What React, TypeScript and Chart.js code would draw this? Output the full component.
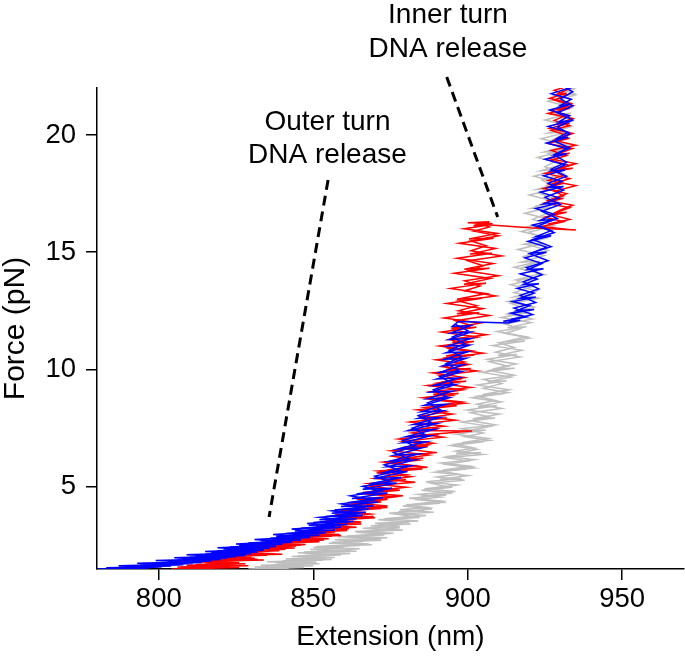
import React, { useEffect, useRef } from "react";
import { Chart, registerables } from "chart.js";

Chart.register(...registerables);

const FONT = "'Liberation Sans', Arial, Helvetica, sans-serif";

// Axes
const xRange = [780, 970];
const yRange = [1.5, 22];
const xTicks = [800, 850, 900, 950];
const yTicks = [5, 10, 15, 20];
const xTitle = "Extension (nm)";
const yTitle = "Force (pN)";

// Gray trace (force pN / extension nm), two interleaved sample passes
const grayForce = [
  1.50,1.56,1.53,1.62,1.66,1.72,1.70,1.79,1.85,1.91,1.88,1.97,2.03,2.10,2.07,2.16,2.22,2.29,2.26,2.36,2.42,2.50,2.47,2.57,2.64,2.72,2.69,2.80,2.87,2.95,2.92,3.02,
  3.10,3.18,3.15,3.26,3.34,3.42,3.39,3.50,3.60,3.70,3.66,3.78,3.88,3.98,3.94,4.06,4.18,4.30,4.26,4.40,4.52,4.64,4.60,4.74,4.86,4.98,4.94,5.08,5.22,5.36,5.32,5.48,5.62,5.76,5.72,5.88,6.02,
  6.16,6.30,6.46,6.42,6.60,6.76,6.92,6.88,7.06,7.24,7.42,7.38,7.58,7.76,7.94,7.90,8.10,8.28,8.46,8.42,8.62,8.80,8.98,8.94,9.14,9.34,9.52,9.48,9.68,9.88,10.06,10.02,10.24,10.44,10.64,10.60,10.82,11.02,11.22,11.18,11.40,11.62,11.82,11.78,12.00,
  12.22,12.44,12.40,12.66,12.90,13.14,13.10,13.36,13.62,13.88,13.84,14.10,14.36,14.62,14.58,14.86,15.12,15.38,15.34,15.62,15.88,16.14,16.10,16.38,16.66,16.92,16.88,17.16,17.44,17.72,17.68,17.96,18.24,18.52,18.48,18.76,19.04,19.32,19.28,19.56,19.84,20.12,20.08,20.36,20.64,20.92,20.88,21.16,21.44,21.72,21.68,21.96,22.20
];
const grayExt = [
  829,847,834,846,833,852,838,851,840,856,844,854,843,859,846,862,847,862,851,865,850,865,854,868,856,872,860,872,858,873,864,876,
  863.5,876,868.5,878,868.5,881.5,871,881,871,884.5,876,886.5,874.5,886,877.5,888.5,879,891,882.5,891,881,893,885,895,885,895,888.5,896.5,886.5,898,891,900,889.5,899.5,892,901,891.5,
  902,893.7,904.3,896.2,903,894.5,905.2,898,906.7,896.2,905.8,899.6,907.3,898,908.8,901.6,910.3,899.8,909.4,903.3,910.9,901.4,911.9,904.8,913.4,903,912.6,906.4,914,904.6,915.2,908.1,915.7,906.3,915.9,909.8,917.5,908,918.5,911.4,919,909.5,919,912.9,920.5,
  910.8,920.2,914.1,921.5,912.9,921.2,915.1,922.5,913.9,922.3,916.2,923.6,915,923.4,917.4,924.8,916.2,924.6,918.5,925.9,917.3,925.7,919.7,927.1,918.5,926.9,920.8,928.3,919.9,928.4,922.4,929.9,921.4,929.8,923.7,931.1,922.6,931,924.9,932.3,923.8,932.2,926.1,933.5,925,933.4,927.3,933.7,926,933.3,928.2,934.5,927.7
];
const grayForceB = [
  1.52,1.58,1.64,1.68,1.75,1.81,1.87,1.93,1.99,2.05,2.13,2.19,2.26,2.33,2.39,2.46,2.53,2.60,2.67,2.75,
  2.83,2.91,2.99,3.07,3.16,3.24,3.32,3.45,3.55,3.64,3.74,3.84,3.92,4.02,4.12,4.24,4.34,4.46,4.56,4.68,
  4.80,4.92,5.02,5.16,5.28,5.42,5.54,5.68,5.80,5.96,6.10,6.24,6.38,6.52,6.66,6.82,6.98,7.14,7.30,7.48,
  7.64,7.82,7.98,8.16,8.34,8.52,8.68,8.86,9.02,9.20,9.40,9.58,9.76,9.96,10.14,10.34,10.54,10.74,10.94,11.14,
  11.34,11.54,11.74,11.94,12.16,12.36,12.58,12.82,13.04,13.28,13.54,13.78,14.04,14.30,14.56,14.82,15.08,15.34,15.60,15.86,
  16.12,16.40,16.68,16.96,17.24,17.52,17.80,18.08,18.36,18.64,18.92,19.20,19.48,19.76,20.04,20.32,20.60,20.88,21.16,21.44,
  21.72,22.00,22.20
];
const grayExtB = [
  842,831,850,837,846,835,853,841,857,845,855,845,864,849,860,851,869,855,866,857,
  874,861,872,864,879,866,878,870,884,873,882,877,889,878,887,880,893,883,891,884,
  896,886,893,888,899,890,897,891,902,893,900,893,905,896,902,896,907,899,905,898,
  909,901,907,901,911,903,909,903,913,905,911,905,915,907,913,907,917,909,915,910,
  920,912,917,912,921,913,919,914,923,915,921,916,925,917,922,918,926,919,924,920,
  928,921,926,922,929,923,928,924,931,925,929,926,932,927,931,928,934,929,932,929,
  935,930,932
];

// Red trace
const redForce = [
  1.50,1.56,1.53,1.61,1.66,1.72,1.70,1.78,1.84,1.90,1.87,1.96,2.02,2.09,2.06,2.15,2.21,2.28,2.25,2.34,2.41,2.48,2.45,2.54,2.61,2.68,2.65,2.74,2.82,2.90,2.87,2.97,
  3.05,3.14,3.10,3.22,3.32,3.42,3.38,3.50,3.62,3.74,3.70,3.84,3.96,4.08,4.04,4.18,4.32,4.46,4.42,4.58,4.72,4.86,4.82,4.98,5.14,5.30,5.26,5.44,5.60,5.76,
  5.72,5.90,6.06,6.22,6.18,6.36,6.54,6.72,6.68,6.86,7.04,7.22,7.18,7.38,7.40,7.58,7.76,7.94,7.90,8.10,8.28,8.46,8.42,8.62,8.80,8.98,8.94,9.14,9.32,9.50,
  9.46,9.66,9.86,10.04,10.00,10.22,10.42,10.62,10.58,10.80,11.00,11.20,11.16,11.38,11.60,11.80,11.76,11.98,12.20,12.42,12.38,12.60,12.82,13.04,13.00,13.24,13.46,13.68,13.64,13.88,
  14.10,14.32,14.28,14.52,14.74,14.96,14.92,15.16,15.38,15.60,15.56,15.80,16.00,16.18,16.14,16.30,16.26,16.22,16.18,
  16.04,15.95,16.06,15.98,16.10,16.30,16.50,16.70,16.66,16.90,17.10,17.30,17.26,17.50,17.72,17.94,17.90,18.14,18.36,18.58,18.54,18.78,19.00,19.22,19.18,19.42,19.64,19.86,19.82,20.06,
  20.28,20.50,20.46,20.70,20.92,21.14,21.10,21.34,21.56,21.78,21.74,21.98,22.20
];
const redExt = [
  804,826,810,823,809,828,815,826,814,832,818,831,817.5,835,822.5,837.5,822,839,828,841,827,844.5,832.5,847.5,834,851,839,853.5,840,856,845.5,858.5,
  846,861,851,861.5,851,865.5,855,865.5,855,869.5,860,868.5,858.5,872,862.5,874,862,874,867,876.5,865.5,878,869,880,868,880,872.7,881.7,870.5,885.3,
  874,883,872.8,885.6,877.4,887.3,875.2,887.1,878.9,888.8,877.7,890.6,882.4,901.4,880.5,892.4,881.3,893.2,885,895,883.7,896.4,888.3,897.9,885.4,897,888.8,898.4,887,899.5,
  891.4,899,888.6,901,893,900.4,889.8,902.1,893,901.4,890.8,902,895,903.3,891.5,902.8,894.7,904,892.3,903.6,896.5,904.9,893.2,904.6,896.5,906,894.4,905.9,898.8,907.3,
  895.6,907,898.9,908.2,896.5,907.8,900.7,909,897.2,908.4,900.4,909.6,898.8,907.9,901.9,907,900,908,905,
  920,935,922,932,924,931,925,932,928,933,925,931,927,932,924.5,931,927,933,925,934,929,935,926,933,929,934,926,933,929,934,
  926.5,933,929,934,926,933,929,933.5,926.5,932,929,933,927
];
const redForceB = [
  1.52,1.58,1.64,1.69,1.75,1.81,1.88,1.94,2.00,2.07,2.13,2.19,2.26,2.32,2.39,2.45,2.52,2.58,2.66,2.72,
  2.79,2.85,2.93,3.00,3.08,3.18,3.28,3.36,3.46,3.56,3.68,3.80,3.90,4.00,4.12,4.24,4.36,4.48,4.62,4.76,
  4.90,5.04,5.20,5.36,5.52,5.68,5.84,6.00,6.14,6.30,6.46,6.62,6.78,6.94,7.12,7.30,7.48,7.66,7.84,8.02,
  8.20,8.38,8.56,8.72,8.90,9.06,9.24,9.42,9.58,9.76,9.94,10.12,10.32,10.50,10.70,10.90,11.08,11.28,11.48,11.68,
  11.88,12.08,12.30,12.50,12.72,12.92,13.14,13.36,13.56,13.78,14.00,14.20,14.42,14.64,14.84,15.06,15.28,15.48,15.70,15.90,
  16.08,16.24,16.28
];
const redExtB = [
  818,806,829,812,825,811,834,816,830,818,840,823,836,826,844,830,846,834,852,839,
  855,842,859,846,857,849,864,853,862,854,870,857,867,859,874,861,872,864,879,866,
  876,868,883,870,880,871,887,875,884,876,890,879,887,879,892,882,890,883,896,885,
  893,886,899,888,895,888,901,890,897,891,903,892,899,893,905,894,900,894,906,895,
  901,896,907,897,903,897,909,899,904,899,910,900,905,900,911,901,906,901,910,902,
  907,903,906
];
const redUpperForceB = [
  16.20,16.40,16.60,16.80,17.00,17.20,17.40,17.60,17.84,18.06,18.28,18.50,18.70,18.92,19.12,19.34,19.56,19.76,19.98,20.20,
  20.40,20.62,20.84,21.04,21.26,21.48,21.70,21.90,22.10
];
const redUpperExtB = [
  926,933,927,930,934,926,931,928,935,926,931,927,933,927,932,927,935,928,932,927,
  933,928,932,927,934,928,932,928,933
];

// Blue trace
const blueForce = [
  1.50,1.54,1.52,1.58,1.56,1.63,1.61,1.68,1.66,1.73,1.71,1.78,1.76,1.84,1.82,1.90,1.88,1.96,1.94,2.02,
  2.00,2.08,2.06,2.15,2.13,2.22,2.20,2.30,2.28,2.38,2.36,2.46,2.44,2.55,2.52,2.64,2.61,2.74,2.71,2.84,
  2.81,2.94,2.90,3.05,3.01,3.16,3.12,3.28,3.24,3.40,3.36,3.52,3.48,3.64,3.60,3.78,3.74,3.92,3.88,4.06,
  4.02,4.20,4.16,4.36,4.32,4.54,4.50,4.74,4.70,4.94,4.90,5.16,5.12,5.40,5.36,5.66,5.62,5.90,5.86,6.14,
  6.10,6.40,6.36,6.66,6.62,6.92,6.88,7.18,7.14,7.44,7.40,7.70,7.66,7.96,7.92,8.24,8.20,8.52,8.48,8.80,
  8.76,9.08,9.04,9.36,9.32,9.64,9.60,9.92,9.88,10.20,10.16,10.48,10.44,10.76,10.72,11.04,11.00,11.32,11.28,11.60,
  11.56,11.88,11.84,12.05,
  11.98,12.10,12.06,12.24,12.40,12.56,12.52,12.72,12.90,13.08,13.04,13.26,13.46,13.66,13.62,13.86,14.08,14.30,14.26,14.52,
  14.76,15.00,14.96,15.22,15.46,15.70,15.66,15.92,16.16,16.40,16.36,16.62,16.86,17.10,17.06,17.32,17.56,17.80,17.76,18.02,
  18.26,18.50,18.46,18.72,18.96,19.20,19.16,19.42,19.66,19.90,19.86,20.12,20.36,20.60,20.56,20.82,21.06,21.30,21.26,21.52,
  21.76,22.00,22.20
];
const blueExt = [
  780,797,785,801,788,804,791,808,794,811,797,814,800,817,803,820,806,822,808,825,
  810,828,812,830,815,832,817,834,819,836,821,838,823,840,826,843,829,846,833,849,
  836,852,838,854,841,857,844,859,846,861,848.5,863,850,864,852,866,854,867,856,868,
  857,869.5,859,871,861,872.5,862.5,874,864,875.5,866,877,868,878.5,869.5,880.5,873,881.5,874,882.5,
  875,884,876.5,885,877.5,886.5,879,888,880,889,881,890,882.5,891,884,892,885,893,886,894,
  887,895,888,896,889,897,890,898,891,898.5,892,899.5,892.5,900,893,900.5,893.5,901,894,901,
  894.5,901,895,897,
  913,917,911.5,919,914,921.5,916,920,914.5,922,917,921.5,916,923,918,922.5,917,924.5,919.5,924,
  918.5,925.5,920.5,925.5,919.5,927,922,927,921,928.5,923.5,928,922,929.5,924.5,929.5,923.5,931,926,930.5,
  924.5,931.5,927,931.5,925,932,928,932,925.5,932.5,929,932.5,926,933,929.5,933,926.5,933,930,933.5,
  927,933,930
];
const blueForceB = [
  1.51,1.55,1.60,1.64,1.69,1.74,1.80,1.86,1.92,1.98,2.04,2.11,2.18,2.25,2.33,2.41,2.49,2.57,2.66,2.76,
  2.86,2.97,3.08,3.20,3.32,3.44,3.56,3.70,3.84,3.98,4.12,4.28,4.44,4.62,4.82,5.02,5.22,5.46,5.70,5.94,
  6.20,6.46,6.72,6.98,7.24,7.50,7.76,8.04,8.30,8.58,8.86,9.14,9.42,9.70,9.98,10.26,10.54,10.82,11.10,11.38,
  11.66,11.92
];
const blueExtB = [
  792,783,798,787,803,793,809,799,814,805,820,809,826,815,830,819,835,825,840,831,
  846,837,851,843,857,848,861,852,864,856,866,859,869,862,872,866,875,870,878,873,
  881,876,883,879,886,882,888,884,891,887,893,889,895,891,897,893,898,894,899,895,
  900,896
];
const blueUpperForceB = [
  12.14,12.34,12.62,12.86,13.16,13.44,13.74,14.04,14.34,14.64,14.94,15.24,15.54,15.84,16.14,16.44,16.74,17.04,17.34,17.64,
  17.94,18.24,18.54,18.84,19.14,19.44,19.74,20.04,20.34,20.64,20.94,21.24,21.54,21.84,22.14
];
const blueUpperExtB = [
  914,921,915,922,917,923,918,924,919,926,920,927,921,928,923,929,924,930,925,931,
  926,932,927,932,928,933,928,933,929,934,929,934,930,934,930
];

// Annotations (dashed pointers and labels, in data units)
const outerDashExt = [854.8, 835.7];
const outerDashForce = [18.08, 3.72];
const innerDashExt = [893.2, 909.7];
const innerDashForce = [22.47, 16.5];
const outerLabel = ["Outer turn", "DNA release"];
const outerLabelAt = [854.6, 20.21];
const innerLabel = ["Inner turn", "DNA release"];
const innerLabelAt = [893.6, 24.77];

const BLUE = "#0000ff";
const RED = "#ff0000";
const GRAY = "#bebebe";

const toPoints = (xs: number[], ys: number[]) => xs.map((x, i) => ({ x, y: ys[i] }));

const trace = (color: string, xs: number[], ys: number[]) => ({
  data: toPoints(xs, ys),
  showLine: true,
  borderColor: color,
  borderWidth: 1.5,
  pointRadius: 0,
});

const dashed = (xs: number[], ys: number[]) => ({
  data: toPoints(xs, ys),
  showLine: true,
  borderColor: "#000",
  borderWidth: 3,
  borderDash: [10, 6],
  pointRadius: 0,
  clip: false as any,
});

const labelPlugin = {
  id: "annotLabels",
  afterDraw(chart: any) {
    const { ctx, scales } = chart;
    const xs = scales.x;
    const ys = scales.y;
    ctx.save();
    ctx.fillStyle = "#000";
    ctx.font = `28px ${FONT}`;
    ctx.textAlign = "center";
    ctx.textBaseline = "alphabetic";
    const items: [string[], number[]][] = [
      [outerLabel, outerLabelAt],
      [innerLabel, innerLabelAt],
    ];
    items.forEach(([lines, at]) => {
      const px = xs.getPixelForValue(at[0]);
      const py = ys.getPixelForValue(at[1]);
      lines.forEach((t, i) => ctx.fillText(t, px, py + i * 33.5));
    });
    ctx.restore();
  },
};

export default function App() {
  const ref = useRef<HTMLCanvasElement | null>(null);

  useEffect(() => {
    if (!ref.current) return;
    const tickFont = { family: FONT, size: 27.5 };
    const axisGrid = {
      drawOnChartArea: false,
      drawTicks: true,
      tickLength: 11,
      color: "#000",
      tickColor: "#000",
      lineWidth: 1.5,
      tickWidth: 1.5,
    };
    const chart = new Chart(ref.current, {
      type: "scatter",
      data: {
        datasets: [
          dashed(outerDashExt, outerDashForce),
          dashed(innerDashExt, innerDashForce),
          trace(BLUE, blueExt, blueForce),
          trace(BLUE, blueExtB, blueForceB),
          trace(BLUE, blueUpperExtB, blueUpperForceB),
          trace(RED, redExt, redForce),
          trace(RED, redExtB, redForceB),
          trace(RED, redUpperExtB, redUpperForceB),
          trace(GRAY, grayExt, grayForce),
          trace(GRAY, grayExtB, grayForceB),
        ] as any,
      },
      options: {
        responsive: false,
        animation: false,
        layout: { padding: { top: 88, right: 1, left: 0, bottom: 0 } },
        plugins: { legend: { display: false }, tooltip: { enabled: false } },
        scales: {
          x: {
            type: "linear",
            min: xRange[0],
            max: xRange[1],
            afterBuildTicks: (s: any) => {
              s.ticks = xTicks.map((v) => ({ value: v }));
            },
            afterFit: (s: any) => {
              s.height = 88;
            },
            grid: axisGrid,
            border: { display: true, color: "#000", width: 1.5 },
            ticks: { color: "#000", font: tickFont, padding: 3, maxRotation: 0, autoSkip: false },
            title: {
              display: true,
              text: xTitle,
              color: "#000",
              font: { family: FONT, size: 28, lineHeight: 1.1 },
              padding: { top: 0, bottom: 4 },
            },
          },
          y: {
            type: "linear",
            min: yRange[0],
            max: yRange[1],
            afterBuildTicks: (s: any) => {
              s.ticks = yTicks.map((v) => ({ value: v }));
            },
            afterFit: (s: any) => {
              s.width = 97;
            },
            grid: axisGrid,
            border: { display: true, color: "#000", width: 1.5 },
            ticks: { color: "#000", font: tickFont, padding: 10, autoSkip: false },
            title: {
              display: true,
              text: yTitle,
              color: "#000",
              font: { family: FONT, size: 30, lineHeight: 1.05 },
              padding: { top: 0, bottom: 0 },
            },
          },
        },
      } as any,
      plugins: [labelPlugin],
    });
    return () => chart.destroy();
  }, []);

  return (
    <div style={{ position: "fixed", left: 0, top: 0, width: 685, height: 657, background: "#fff" }}>
      <canvas ref={ref} width={685} height={657} style={{ display: "block" }} />
    </div>
  );
}
